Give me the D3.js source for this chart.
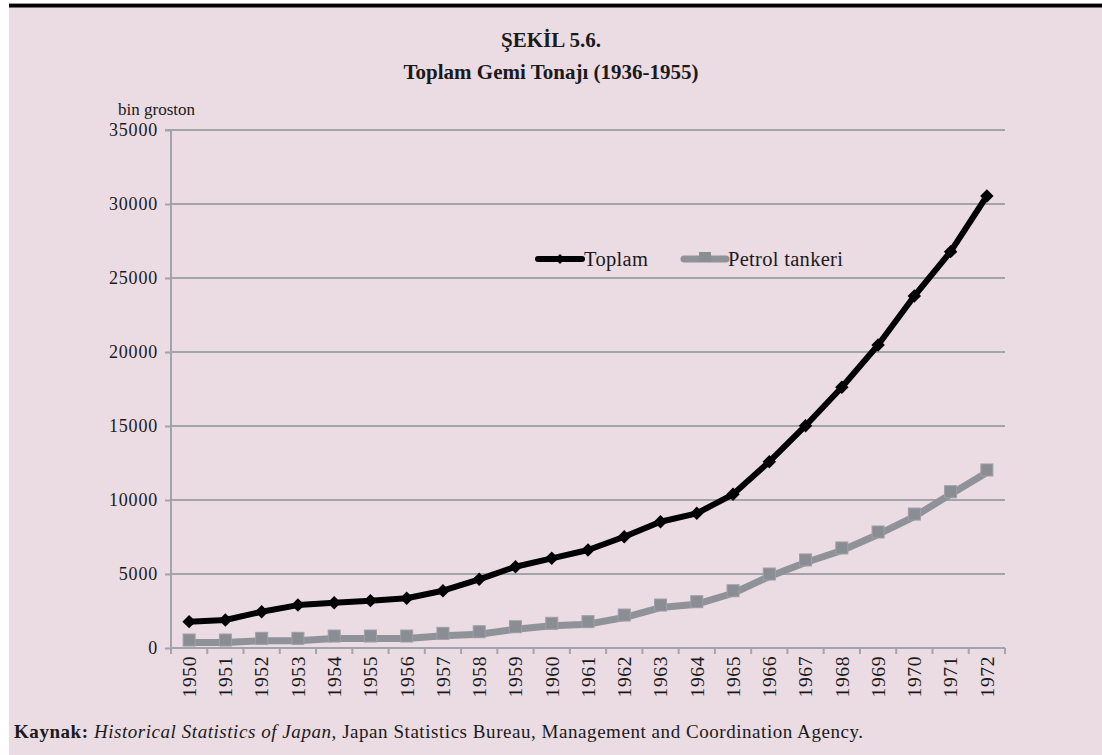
<!DOCTYPE html>
<html><head><meta charset="utf-8">
<script src="https://cdn.jsdelivr.net/npm/d3@7"></script>
<style>
html,body{margin:0;padding:0;background:#fff;}
svg{display:block;}
text{font-family:"Liberation Serif","Times New Roman",serif;fill:#1a1a1a;}
</style></head><body>
<svg id="c" width="1102" height="755"></svg>
<script>
const years = ["1950","1951","1952","1953","1954","1955","1956","1957","1958","1959","1960","1961","1962","1963","1964","1965","1966","1967","1968","1969","1970","1971","1972"];
const toplam = [1780,1890,2450,2900,3060,3200,3360,3870,4640,5490,6060,6620,7520,8530,9100,10385,12590,15020,17615,20475,23785,26780,30540];
const petrol = [370,370,485,485,640,640,640,820,930,1270,1500,1610,2060,2735,2960,3700,4830,5780,6590,7670,8880,10390,11860];
const yTicks = [0,5000,10000,15000,20000,25000,30000,35000];
const seriesNames = ["Toplam","Petrol tankeri"];

(function(){
const svg = d3.select("#c");
svg.append("rect").attr("x",9).attr("y",4).attr("width",1093).attr("height",751).attr("fill","#EBDBE3");
svg.append("rect").attr("x",9).attr("y",3).attr("width",1093).attr("height",1.5).attr("fill","#999");
svg.append("rect").attr("x",9).attr("y",4).attr("width",1093).attr("height",3.5).attr("fill","#000");

const pL=171, pR=1005, pT=130, pB=648;
const x = d3.scaleBand().domain(years).range([pL,pR]);
const y = d3.scaleLinear().domain([0,35000]).range([pB,pT]);
const gridC = "#A3A3AB";

svg.append("g").selectAll("line").data(yTicks.filter(d=>d>0)).join("line")
  .attr("x1",pL).attr("x2",pR).attr("y1",d=>y(d)).attr("y2",d=>y(d))
  .attr("stroke",gridC).attr("stroke-width",2);

const ya = svg.append("g").attr("transform",`translate(${pL},0)`)
  .call(d3.axisLeft(y).tickValues(yTicks).tickSize(6).tickPadding(7).tickFormat(d=>String(d)));
ya.select(".domain").attr("stroke",gridC).attr("stroke-width",2).attr("d",`M-6,${pT}H0V${pB}`);
ya.selectAll(".tick line").attr("stroke",gridC).attr("stroke-width",2);
ya.selectAll(".tick text").attr("font-size",18).attr("fill","#1a1a1a").style("font-family","'Liberation Serif',serif").attr("letter-spacing","0.8");

const xa = svg.append("g").attr("transform",`translate(0,${pB})`)
  .call(d3.axisBottom(x).tickSize(0).tickPadding(0));
xa.select(".domain").attr("stroke",gridC).attr("stroke-width",2).attr("d",`M${pL},0H${pR}`);
xa.selectAll(".tick line").remove();
svg.append("g").selectAll("line").data(years.concat(["end"])).join("line")
  .attr("x1",(d,i)=>pL+i*x.bandwidth()).attr("x2",(d,i)=>pL+i*x.bandwidth())
  .attr("y1",pB).attr("y2",pB+6).attr("stroke",gridC).attr("stroke-width",2);
xa.selectAll(".tick text").attr("font-size",19.5).attr("fill","#1a1a1a")
  .style("font-family","'Liberation Serif',serif").attr("letter-spacing","0.6")
  .attr("text-anchor","end").attr("dy","0.35em")
  .attr("transform","translate(0,8) rotate(-90)").attr("x",0).attr("y",0);

const cx = d => x(d)+x.bandwidth()/2;
const line = d3.line().x((d,i)=>cx(years[i])).y(d=>y(d));
svg.append("path").datum(petrol).attr("d",line).attr("fill","none")
  .attr("stroke","#8F9298").attr("stroke-width",7).attr("stroke-linejoin","round");
svg.append("g").selectAll("rect").data(petrol).join("rect")
  .attr("x",(d,i)=>cx(years[i])-6).attr("y",d=>y(d)-6-2.5).attr("width",12).attr("height",12)
  .attr("fill","#8A8D93").attr("stroke","#9DA0A6").attr("stroke-width",1);

svg.append("path").datum(toplam).attr("d",line).attr("fill","none")
  .attr("stroke","#000").attr("stroke-width",6).attr("stroke-linejoin","round");
svg.append("g").selectAll("path").data(toplam).join("path")
  .attr("d",d3.symbol().type(d3.symbolSquare).size(90))
  .attr("transform",(d,i)=>`translate(${cx(years[i])},${y(d)}) rotate(45)`)
  .attr("fill","#000");

const lg = svg.append("g");
lg.append("line").attr("x1",538).attr("x2",582).attr("y1",259).attr("y2",259).attr("stroke","#000").attr("stroke-width",6).attr("stroke-linecap","round");
lg.append("path").attr("d",d3.symbol().type(d3.symbolSquare).size(50)).attr("transform","translate(560,259) rotate(45)").attr("fill","#000");
lg.append("text").attr("x",584).attr("y",266).attr("font-size",20.5).attr("letter-spacing","0.3").text(seriesNames[0]);
lg.append("line").attr("x1",684).attr("x2",726).attr("y1",259).attr("y2",259).attr("stroke","#8F9298").attr("stroke-width",7).attr("stroke-linecap","round");
lg.append("rect").attr("x",699).attr("y",252).attr("width",12).attr("height",10).attr("fill","#8A8D93");
lg.append("text").attr("x",728).attr("y",266).attr("font-size",20.5).attr("letter-spacing","0.3").text(seriesNames[1]);

svg.append("text").attr("x",551).attr("y",47).attr("text-anchor","middle").attr("font-size",21).attr("font-weight","bold").text("ŞEKİL 5.6.");
svg.append("text").attr("x",551).attr("y",79).attr("text-anchor","middle").attr("font-size",21).attr("font-weight","bold").text("Toplam Gemi Tonajı (1936-1955)");
svg.append("text").attr("x",118).attr("y",115).attr("font-size",17).text("bin groston");

const f = svg.append("text").attr("x",14).attr("y",738).attr("font-size",19).attr("letter-spacing","0.55");
f.append("tspan").attr("font-weight","bold").text("Kaynak: ");
f.append("tspan").attr("font-style","italic").text("Historical Statistics of Japan");
f.append("tspan").text(", Japan Statistics Bureau, Management and Coordination Agency.");
})();
</script>
</body></html>
